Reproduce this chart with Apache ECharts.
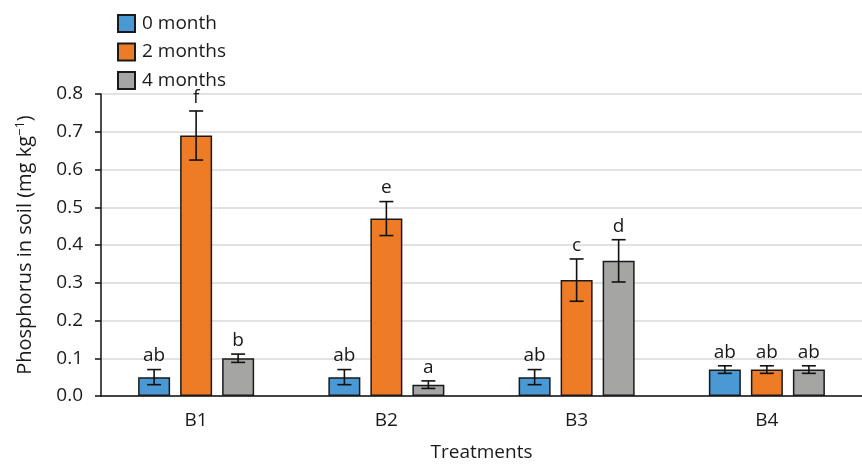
<!DOCTYPE html>
<html>
<head>
<meta charset="utf-8">
<script src="https://cdn.jsdelivr.net/npm/echarts@6/dist/echarts.min.js"></script>
<style>
  html, body { margin: 0; padding: 0; background: #fff; }
  #chart { width: 862px; height: 467px; }
</style>
</head>
<body>
<div id="chart"></div>
<script>
// Soil phosphorus by treatment and sampling time
const categories = ['B1', 'B2', 'B3', 'B4'];
const seriesNames = ['0 month', '2 months', '4 months'];
const month0 = [0.05, 0.05, 0.05, 0.07];
const month2 = [0.69, 0.47, 0.307, 0.07];
const month4 = [0.10, 0.03, 0.358, 0.07];
const err0 = [0.02, 0.02, 0.02, 0.01];
const err2 = [0.065, 0.045, 0.056, 0.01];
const err4 = [0.011, 0.01, 0.056, 0.01];
const letters0 = ['ab', 'ab', 'ab', 'ab'];
const letters2 = ['f', 'e', 'c', 'ab'];
const letters4 = ['b', 'a', 'd', 'ab'];
const yTicks = [0, 0.1, 0.2, 0.3, 0.4, 0.5, 0.6, 0.7, 0.8];

const colors = ['#4a98d4', '#ee7b26', '#a5a5a4'];
const FONT = '"Open Sans", "Noto Sans", sans-serif';
const BAR_W = 32;
const STEP = 42; // distance between bar centres inside a category

const groups = [
  { name: seriesNames[0], vals: month0, errs: err0, letters: letters0, offset: -STEP },
  { name: seriesNames[1], vals: month2, errs: err2, letters: letters2, offset: 0 },
  { name: seriesNames[2], vals: month4, errs: err4, letters: letters4, offset: STEP }
];

const barSeries = groups.map((g, i) => ({
  name: g.name,
  type: 'bar',
  data: g.vals,
  barWidth: BAR_W,
  barGap: ((STEP - BAR_W) / BAR_W * 100).toFixed(1) + '%',
  itemStyle: { color: colors[i], borderColor: '#1a1a1a', borderWidth: 1.5 },
  emphasis: { disabled: true },
  z: 2
}));

// Error bars with significance letters above them
const errSeries = groups.map((g, i) => ({
  name: 'err' + i,
  type: 'custom',
  z: 5,
  data: g.vals.map((v, k) => [k, v, g.errs[k]]),
  renderItem: function (params, api) {
    const k = api.value(0), v = api.value(1), e = api.value(2);
    const top = api.coord([k, v + e]);
    const bot = api.coord([k, v - e]);
    const x = top[0] + g.offset;
    const cap = 7;
    const st = { stroke: '#111', lineWidth: 1.6 };
    return {
      type: 'group',
      children: [
        { type: 'line', shape: { x1: x, y1: top[1], x2: x, y2: bot[1] }, style: st },
        { type: 'line', shape: { x1: x - cap, y1: top[1], x2: x + cap, y2: top[1] }, style: st },
        { type: 'line', shape: { x1: x - cap, y1: bot[1], x2: x + cap, y2: bot[1] }, style: st },
        {
          type: 'text',
          x: x, y: top[1] - 4,
          style: {
            text: g.letters[k], fill: '#1a1a1a', font: '19px ' + FONT,
            align: 'center', verticalAlign: 'bottom'
          }
        }
      ]
    };
  }
}));

const chart = echarts.init(document.getElementById('chart'), null, { renderer: 'canvas' });
chart.setOption({
  animation: false,
  backgroundColor: '#fff',
  textStyle: { fontFamily: FONT },
  legend: {
    data: seriesNames,
    orient: 'vertical',
    left: 112, top: 9,
    itemWidth: 17, itemHeight: 17, itemGap: 9.5,
    icon: 'rect',
    textStyle: { fontSize: 19, lineHeight: 19, color: '#1a1a1a', fontFamily: FONT, padding: [0, 0, 0, 2] },
    selectedMode: false
  },
  grid: { left: 101, top: 94, width: 768, height: 302.7, containLabel: false },
  xAxis: {
    type: 'category',
    data: categories,
    name: 'Treatments',
    nameLocation: 'middle',
    nameGap: 47,
    nameTextStyle: { fontSize: 19, color: '#1a1a1a', fontFamily: FONT },
    axisLine: { lineStyle: { color: '#111', width: 1.5 } },
    axisTick: { length: 7, lineStyle: { color: '#111', width: 1.5 } },
    axisLabel: { fontSize: 19, color: '#1a1a1a', margin: 15, fontFamily: FONT },
    splitLine: { show: false }
  },
  yAxis: {
    type: 'value',
    min: yTicks[0], max: yTicks[yTicks.length - 1], interval: 0.1,
    name: '{a|Phosphorus in soil (mg kg}{s|−1}{a|)}',
    nameLocation: 'middle',
    nameGap: 64,
    nameRotate: 90,
    nameTextStyle: {
      rich: {
        a: { fontSize: 20, color: '#1a1a1a', fontFamily: FONT },
        s: { fontSize: 13, color: '#1a1a1a', fontFamily: FONT, verticalAlign: 'top', padding: [0, 0, 10, 0] }
      }
    },
    axisLine: { show: true, lineStyle: { color: '#111', width: 1.5 } },
    axisTick: { show: true, length: 6, lineStyle: { color: '#111', width: 1.5 } },
    axisLabel: { fontSize: 19, color: '#1a1a1a', margin: 18, fontFamily: FONT,
      formatter: v => v.toFixed(1) },
    splitLine: { lineStyle: { color: '#d9d9d9', width: 1.5 } }
  },
  series: barSeries.concat(errSeries)
});
</script>
</body>
</html>
